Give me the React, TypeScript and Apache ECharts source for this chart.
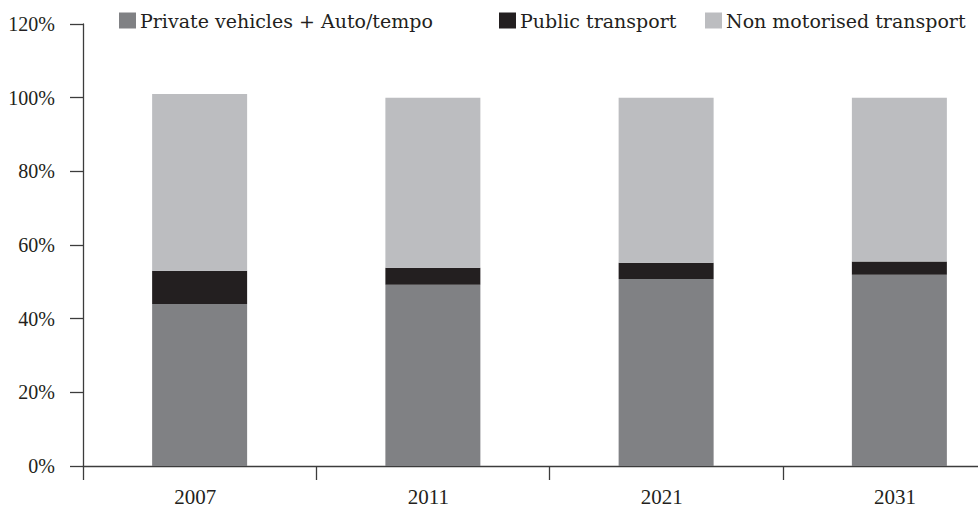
import React, { useEffect, useRef } from "react";
import * as echarts from "echarts";

const categories = ["2007", "2011", "2021", "2031"];
const privateVehicles = [44.0, 49.2, 50.8, 51.9];
const publicTransport = [9.0, 4.6, 4.4, 3.6];
const nonMotorised = [48.0, 46.2, 44.8, 44.5];
const seriesNames = ["Private vehicles + Auto/tempo", "Public transport", "Non motorised transport"];
const seriesColors = ["#808184", "#231f20", "#bcbdc0"];

const LEGEND_FONT = "DejaVu Serif";
const AXIS_FONT = "Liberation Serif";
const TEXT = "#231f20";
const AXIS = "#3c3c3c";

export default function App() {
  const ref = useRef<HTMLDivElement>(null);
  useEffect(() => {
    if (!ref.current) return;
    const chart = echarts.init(ref.current, null, { renderer: "svg" });
    const legendLefts = [119, 499, 705];
    const values = [privateVehicles, publicTransport, nonMotorised];
    chart.setOption({
      animation: false,
      backgroundColor: "#ffffff",
      legend: seriesNames.map((n, i) => ({
        data: [n],
        left: legendLefts[i],
        top: 11,
        icon: "rect",
        itemWidth: 17,
        itemHeight: 16,
        itemGap: 0,
        textStyle: { fontFamily: LEGEND_FONT, fontSize: 19, color: TEXT, padding: [0, 0, 0, -1] },
        padding: 0,
        selectedMode: false,
      })),
      grid: { left: 83, right: 0, top: 24, bottom: 41, containLabel: false },
      xAxis: {
        type: "category",
        data: categories,
        boundaryGap: true,
        axisLine: { lineStyle: { color: AXIS, width: 1.3 } },
        axisTick: { show: true, length: 14, lineStyle: { color: AXIS, width: 1.3 } },
        axisLabel: {
          fontFamily: AXIS_FONT,
          fontSize: 21,
          color: TEXT,
          margin: 20,
          padding: [0, 9, 0, 0],
        },
      },
      yAxis: {
        type: "value",
        min: 0,
        max: 120,
        interval: 20,
        splitLine: { show: false },
        axisLine: { show: true, lineStyle: { color: AXIS, width: 1.3 } },
        axisTick: { show: true, length: 13, lineStyle: { color: AXIS, width: 1.3 } },
        axisLabel: {
          fontFamily: AXIS_FONT,
          fontSize: 20,
          color: TEXT,
          margin: 28,
          formatter: (v: number) => v + "%",
        },
      },
      series: seriesNames.map((n, i) => ({
        name: n,
        type: "bar",
        stack: "total",
        barWidth: 95,
        data: values[i],
        itemStyle: { color: seriesColors[i] },
      })),
    });
    return () => chart.dispose();
  }, []);
  return (
    <div
      style={{
        position: "absolute",
        left: 0,
        top: 0,
        width: 978,
        height: 507,
        overflow: "hidden",
        background: "#ffffff",
      }}
    >
      <div ref={ref} style={{ width: 1016, height: 507 }} />
    </div>
  );
}
